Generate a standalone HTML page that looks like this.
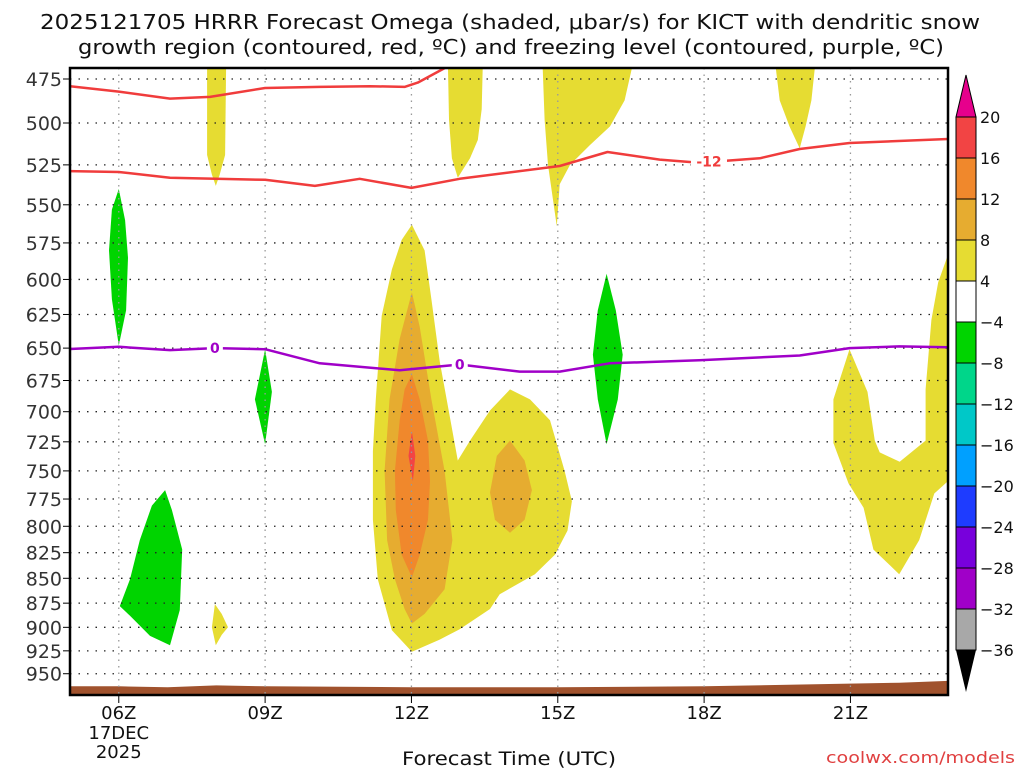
<!DOCTYPE html>
<html><head><meta charset="utf-8"><style>
html,body{margin:0;padding:0;background:#fff;}
svg{display:block;font-family:"DejaVu Sans","Liberation Sans",sans-serif;}
</style></head><body>
<svg id="c" width="1024" height="768" viewBox="0 0 1024 768">
<text x="40" y="29" textLength="940" lengthAdjust="spacingAndGlyphs" font-size="20" fill="#111">2025121705 HRRR Forecast Omega (shaded, μbar/s) for KICT with dendritic snow</text>
<text x="78" y="54" textLength="866" lengthAdjust="spacingAndGlyphs" font-size="20" fill="#111">growth region (contoured, red, ºC) and freezing level (contoured, purple, ºC)</text>
<defs><clipPath id="pc"><rect x="70" y="68" width="878" height="627"/></clipPath></defs>
<g id="shade" clip-path="url(#pc)"></g>
<g id="grid"></g>
<g id="lines" clip-path="url(#pc)"></g>
<g id="axes"></g>
<g id="cbar"></g>
<text x="402" y="765" textLength="214" lengthAdjust="spacingAndGlyphs" font-size="19" fill="#111">Forecast Time (UTC)</text>
<text x="826" y="763" textLength="189" lengthAdjust="spacingAndGlyphs" font-size="16" fill="#e04040">coolwx.com/models</text>
</svg>
<script>
// ---- data (hour UTC, pressure hPa) ----
const pressureTicks=[475,500,525,550,575,600,625,650,675,700,725,750,775,800,825,850,875,900,925,950];
const hourTicks=[6,9,12,15,18,21];
const hourLabels=["06Z","09Z","12Z","15Z","18Z","21Z"];
const cbLevels=["20","16","12","8","4","−4","−8","−12","−16","−20","−24","−28","−32","−36"];
const cbColors=["#f24444","#f0882c","#e6ac30","#e6dc32","#ffffff","#00d400","#00d68a","#00c8c8","#00a0ff","#1e3cff","#7800dc","#a000c8","#a8a8a8"];
const redUpperHours=[5,6,7.05,7.87,9,10.12,11.15,11.86,12.13,12.68,13.2];
const redUpperP=[479,482,486,485,480,479.4,479,479.4,477,469,462];
const red12Hours=[5,6,7.05,9,10.02,10.94,12,12.99,15.04,16.02,17.09,17.9,19.14,19.96,20.98,23];
const red12P=[528.8,529.4,533,534.2,538,533.6,539.3,533.6,525.7,517.2,521.8,523.7,521,515.4,511.8,509.4];
const frzHours=[5,6,7.05,7.97,9,10.12,11.76,12.99,14.22,15.04,16.06,17.9,19.96,20.98,22.0,23];
const frzP=[650.7,649,651.5,650,650.8,661.6,667,662.5,668,668,661.6,659.3,655.6,650,648.7,649.4];
const terrainHours=[5,6,7,8,9,12,15,18,20,22,23];
const terrainP=[964,964,965,963,964,965,965,964,962,960,958];
const shapes=[
 {n:"yellow-cell-08z",c:"#e6dc32",h:[7.81,8.2,8.18,8.07,7.99,7.91,7.81],p:[469,469,519,531,538,531,519]},
 {n:"yellow-cell-13z",c:"#e6dc32",h:[12.75,13.46,13.44,13.36,13.2,12.95,12.83,12.77],p:[469,469,492,510,521,533,521,498]},
 {n:"yellow-cell-15z",c:"#e6dc32",h:[14.69,16.52,16.37,16.07,15.66,15.25,15.04,14.98,14.8,14.73],p:[469,469,487,502,513,525,537,564,525,498]},
 {n:"yellow-cell-20z",c:"#e6dc32",h:[19.47,20.27,20.2,20.08,19.96,19.75,19.55],p:[469,469,487,502,515,502,487]},
 {n:"green-cell-06z-upper",c:"#00d400",h:[6,6.13,6.19,6.15,6,5.86,5.8,5.86],p:[540,560,585,622,648,614,580,553]},
 {n:"green-cell-09z",c:"#00d400",h:[9,9.14,9,8.79],p:[651,684,727,690]},
 {n:"green-cell-16z",c:"#00d400",h:[16,16.19,16.33,16.23,16,15.82,15.72,15.82],p:[596,622,655,690,727,690,655,622]},
 {n:"green-cell-07z-lower",c:"#00d400",h:[6.95,7.09,7.3,7.25,7.05,6.64,6.23,6.02,6.23,6.43,6.68],p:[767,785,822,882,919,909,888,878,851,813,781]},
 {n:"yellow-cell-08z-lower",c:"#e6dc32",h:[7.97,8.11,8.24,8.11,7.99,7.91],p:[876,886,900,908,919,900]},
 {n:"yellow-main-12z",c:"#e6dc32",h:[12.01,12.27,12.41,12.58,12.95,13.2,13.61,14.02,14.43,14.84,15.14,15.29,15.2,14.94,14.53,13.81,13.61,12.99,12.58,12.01,11.6,11.31,11.21,11.21,11.27,11.39,11.6,11.8],
  p:[563,580,614,660,741,724,699,682,690,707,750,777,804,827,846,866,881,902,913,926,903,851,794,733,690,626,593,573]},
 {n:"lightorange-12z",c:"#e6ac30",h:[12.01,12.17,12.41,12.68,12.84,12.68,12.27,12.01,11.86,11.66,11.5,11.45,11.55,11.76],p:[609,634,690,750,813,861,886,896,881,851,813,750,690,643]},
 {n:"lightorange-14z",c:"#e6ac30",h:[14.02,14.32,14.47,14.32,14.02,13.71,13.61,13.75],p:[724,741,767,794,806,794,769,737]},
 {n:"orange-12z",c:"#f0882c",h:[12.01,12.17,12.34,12.38,12.34,12.17,12.01,11.8,11.68,11.66,11.76,11.86],p:[670,690,724,759,794,827,849,827,785,750,707,682]},
 {n:"red-12z",c:"#f24444",h:[12.01,12.08,12.03,11.94],p:[716,737,759,737]},
 {n:"yellow-cell-22z",c:"#e6dc32",h:[23.05,23,22.8,22.66,22.54,22.54,22.01,21.6,21.5,21.35,20.98,20.65,20.65,20.96,21.27,21.47,22.0,22.41,22.72,23,23.05],
  p:[583,583,602,629,682,724,742,734,724,684,651,690,726,761,783,822,846,813,770,759,759]}
];
// ---- axes ----
const X0=70,X1=948,Y0=68,Y1=695;
const xs=h=>X0+(h-5)*(X1-X0)/18;
const ys=p=>79+858*Math.log(p/475);
const NS="http://www.w3.org/2000/svg";
function mk(tag,attrs,parent){const e=document.createElementNS(NS,tag);for(const k in attrs)e.setAttribute(k,attrs[k]);parent.appendChild(e);return e;}
const shade=document.getElementById('shade'),grid=document.getElementById('grid'),lines=document.getElementById('lines'),axes=document.getElementById('axes'),cbar=document.getElementById('cbar');
shapes.forEach(s=>{
 const pts=s.h.map((h,i)=>xs(h).toFixed(1)+','+ys(s.p[i]).toFixed(1)).join(' ');
 const e=mk('polygon',{points:pts,fill:s.c},shade);
 
 
});
// terrain
{const pts=terrainHours.map((h,i)=>xs(h).toFixed(1)+','+ys(terrainP[i]).toFixed(1));
 pts.push(X1+','+Y1,X0+','+Y1);
 const e=mk('polygon',{points:pts.join(' '),fill:'#a0522d'},shade);
 
 }
// grid
pressureTicks.forEach(p=>{
 const y=ys(p);
 const g=mk('line',{x1:X0,x2:X1,y1:y,y2:y,stroke:'#222','stroke-width':1.3,'stroke-dasharray':'1.5 7'},grid);
 
 
 mk('line',{x1:X0-7,x2:X0,y1:y,y2:y,stroke:'#000','stroke-width':1},axes);
 const t=mk('text',{x:62,y:y+7,'text-anchor':'end','font-size':19,fill:'#333'},axes);
 t.textContent=p;
 
 
});
hourTicks.forEach((h,i)=>{
 const x=xs(h);
 const g=mk('line',{x1:x,x2:x,y1:Y0,y2:Y1,stroke:'#999','stroke-width':1.3,'stroke-dasharray':'1.5 5'},grid);
 
 
 mk('line',{x1:x,x2:x,y1:Y1,y2:Y1+8,stroke:'#000','stroke-width':1},axes);
 const t=mk('text',{x:x,y:719,'text-anchor':'middle','font-size':18,fill:'#111'},axes);
 t.textContent=hourLabels[i];
 
 
});
[["17DEC",739],["2025",758]].forEach(a=>{const t=mk('text',{x:xs(6),y:a[1],'text-anchor':'middle','font-size':18,fill:'#111'},axes);t.textContent=a[0];
 
 });
// lines
function line(hs,ps,color,name){
 const d=hs.map((h,i)=>(i?'L':'M')+xs(h).toFixed(1)+','+ys(ps[i]).toFixed(1)).join(' ');
 const e=mk('path',{d:d,fill:'none',stroke:color,'stroke-width':2.5,'stroke-linejoin':'round'},lines);
 
 
}
line(redUpperHours,redUpperP,'#f03c3c','dgz-upper-contour');
line(red12Hours,red12P,'#f03c3c','dgz-minus12-contour');
line(frzHours,frzP,'#a000c8','freezing-level-contour');
function lbl(h,p,txt,color,name){
 const x=xs(h),y=ys(p);
 mk('rect',{x:x-(txt.length*5+3),y:y-7,width:txt.length*10+6,height:14,fill:'#fff'},lines);
 const t=mk('text',{x:x,y:y+5,'text-anchor':'middle','font-size':14,'font-weight':'bold',fill:color},lines);
 t.textContent=txt;
 
 
}
lbl(18.1,523,'-12','#f03c3c','contour-label-minus12');
lbl(7.97,650,'0','#a000c8','contour-label-0a');
lbl(12.99,662.5,'0','#a000c8','contour-label-0b');
// frame
{const f=mk('rect',{x:X0,y:Y0,width:X1-X0,height:Y1-Y0,fill:'none',stroke:'#000','stroke-width':2.5},axes);
 
 }
// colorbar
const CBX=956,CBW=20,CBT=117,CBH=41;
mk('polygon',{points:`${CBX},${CBT} ${CBX+CBW},${CBT} ${CBX+CBW/2},${CBT-42}`,fill:'#e6008c',stroke:'#000','stroke-width':1},cbar);
cbColors.forEach((c,i)=>{
 const r=mk('rect',{x:CBX,y:CBT+i*CBH,width:CBW,height:CBH,fill:c,stroke:'#000','stroke-width':1},cbar);
 
 
});
const cbB=CBT+cbColors.length*CBH;
mk('polygon',{points:`${CBX},${cbB} ${CBX+CBW},${cbB} ${CBX+CBW/2},${cbB+42}`,fill:'#000'},cbar);
cbLevels.forEach((l,i)=>{
 const t=mk('text',{x:980,y:CBT+i*CBH+6,'font-size':16,fill:'#111'},cbar);
 t.textContent=l;
 
 
});
</script>
</body></html>
